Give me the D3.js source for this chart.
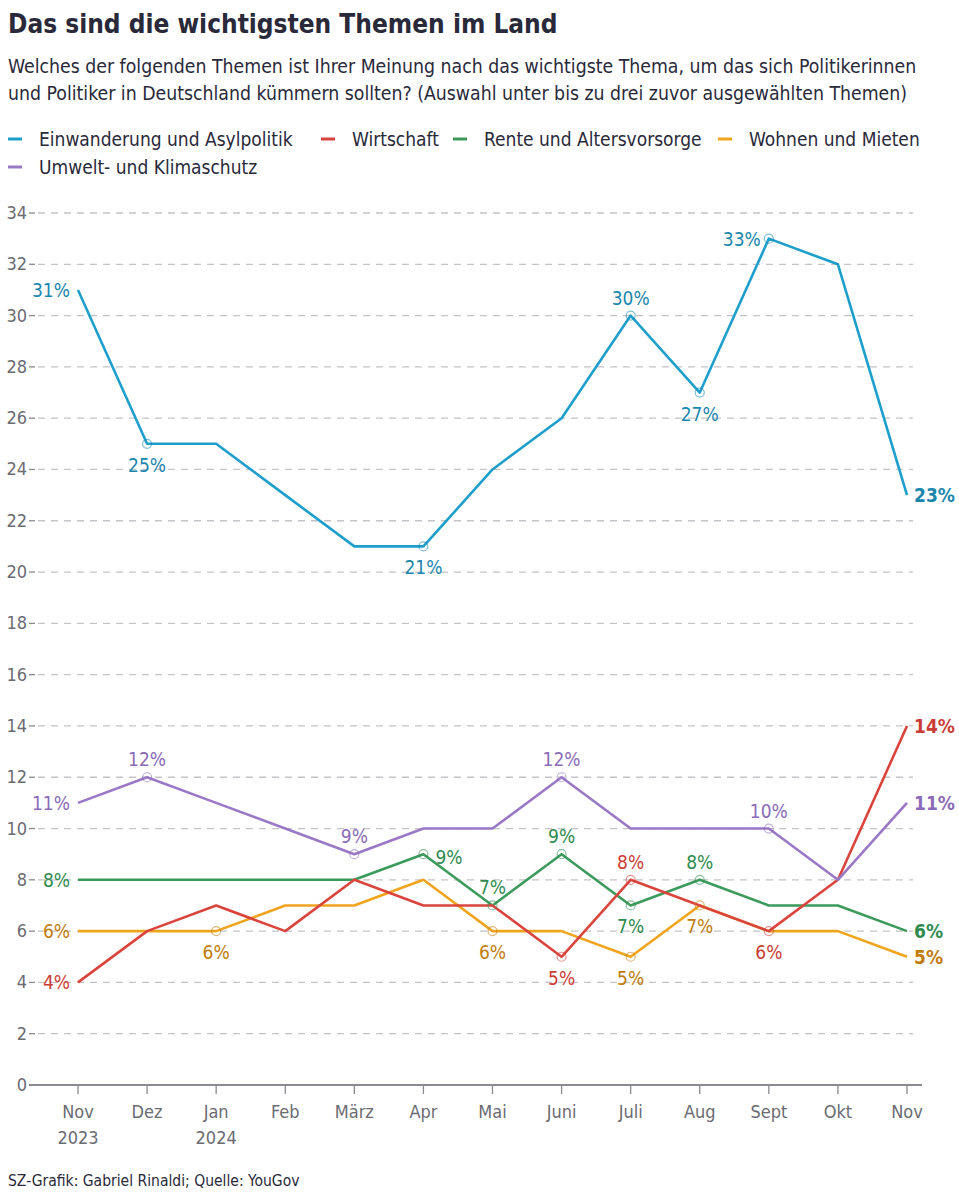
<!DOCTYPE html>
<html><head><meta charset="utf-8">
<script src="https://cdn.jsdelivr.net/npm/d3@7"></script>
<style>
body{margin:0;background:#fff;}
svg text{font-family:"Liberation Sans Narrow","DejaVu Sans Condensed","Roboto",sans-serif;}
</style></head><body>
<svg id="c" width="959" height="1200"></svg>
<script>
const months = ["Nov","Dez","Jan","Feb","März","Apr","Mai","Juni","Juli","Aug","Sept","Okt","Nov "];
const years = ["2023","","2024","","","","","","","","","",""];
const yTicks = [0,2,4,6,8,10,12,14,16,18,20,22,24,26,28,30,32,34];
const seriesNames = ["Einwanderung und Asylpolitik","Wirtschaft","Rente und Altersvorsorge","Wohnen und Mieten","Umwelt- und Klimaschutz"];
const einwanderung = [31,25,25,23,21,21,24,26,30,27,33,32,23];
const wirtschaft   = [4,6,7,6,8,7,7,5,8,7,6,8,14];
const rente        = [8,8,8,8,8,9,7,9,7,8,7,7,6];
const wohnen       = [6,6,6,7,7,8,6,6,5,7,6,6,5];
const umwelt       = [11,12,11,10,9,10,10,12,10,10,10,8,11];
// labelled points: [index, position]
const labEinw = [[0,"l"],[1,"b"],[5,"b"],[8,"t"],[9,"b"],[10,"l"],[12,"r"]];
const labWirt = [[0,"l"],[7,"b"],[8,"t"],[10,"b"],[12,"r"]];
const labRente= [[0,"l"],[5,"r"],[6,"t"],[7,"t"],[8,"b"],[9,"t"],[12,"r"]];
const labWohn = [[0,"l"],[2,"b"],[6,"b"],[8,"b"],[9,"b"],[12,"r"]];
const labUmw  = [[0,"l"],[1,"t"],[4,"t"],[7,"t"],[10,"t"],[12,"r"]];

const lineColors = ["#1e9fcb","#d9453d","#3c9a5c","#f0a41e","#9a78c6"];
const textColors = ["#1a86ad","#c93d36","#2f8a4f","#c07c0c","#8b6bb7"];
const data = [einwanderung,wirtschaft,rente,wohnen,umwelt];
const labs = [labEinw,labWirt,labRente,labWohn,labUmw];

const svg = d3.select("#c");
const x = d3.scalePoint().domain(months).range([78,907]);
const y = d3.scaleLinear().domain([0,34]).range([1085,213]);

// title
svg.append("text").attr("x",8).attr("y",33).attr("font-size",26).attr("font-weight","bold")
  .attr("fill","#29293a").text("Das sind die wichtigsten Themen im Land");
svg.append("text").attr("x",8).attr("y",73).attr("font-size",19.3).attr("fill","#29293a")
  .text("Welches der folgenden Themen ist Ihrer Meinung nach das wichtigste Thema, um das sich Politikerinnen");
svg.append("text").attr("x",8).attr("y",100).attr("font-size",19.3).attr("fill","#29293a")
  .text("und Politiker in Deutschland kümmern sollten? (Auswahl unter bis zu drei zuvor ausgewählten Themen)");

// legend
const legPos = [[8,146],[321,146],[453,146],[718,146],[8,174]];
seriesNames.forEach((n,i)=>{
  const g = svg.append("g").attr("transform",`translate(${legPos[i][0]},${legPos[i][1]})`);
  g.append("line").attr("x1",0).attr("x2",14).attr("y1",-7).attr("y2",-7).attr("stroke",lineColors[i]).attr("stroke-width",3);
  g.append("text").attr("x",31).attr("y",0).attr("font-size",19).attr("fill","#29293a").text(n);
});

// grid
const grid = svg.append("g");
yTicks.forEach(t=>{
  if(t>0) grid.append("line").attr("x1",38).attr("x2",913).attr("y1",y(t)).attr("y2",y(t))
    .attr("stroke","#c4c4c8").attr("stroke-width",1.3).attr("stroke-dasharray","7,6");
  grid.append("line").attr("x1",29).attr("x2",35).attr("y1",y(t)).attr("y2",y(t)).attr("stroke","#8a8a90").attr("stroke-width",1.3);
  grid.append("text").attr("x",27).attr("y",y(t)+6).attr("text-anchor","end").attr("font-size",18).attr("fill","#6b6b72").text(t);
});
// x axis
const xa = svg.append("g").attr("transform","translate(0,1085)");
xa.append("line").attr("x1",29).attr("x2",922).attr("y1",0).attr("y2",0).attr("stroke","#8a8a90").attr("stroke-width",2);
months.forEach((m,i)=>{
  xa.append("line").attr("x1",x(m)).attr("x2",x(m)).attr("y1",0).attr("y2",9).attr("stroke","#8a8a90").attr("stroke-width",1.3);
  xa.append("text").attr("x",x(m)).attr("y",33).attr("text-anchor","middle").attr("font-size",18).attr("fill","#6b6b72").text(m.trim());
  if(years[i]) xa.append("text").attr("x",x(m)).attr("y",59).attr("text-anchor","middle").attr("font-size",18).attr("fill","#6b6b72").text(years[i]);
});

// lines
const line = d3.line().x((d,i)=>x(months[i])).y(d=>y(d));
const order = [3,2,1,4,0];
order.forEach(si=>{
  svg.append("path").datum(data[si]).attr("d",line).attr("fill","none").attr("stroke",lineColors[si]).attr("stroke-width",2.6).attr("stroke-linejoin","round");
});
// circles and labels
order.forEach(si=>{
  labs[si].forEach(([i,pos])=>{
    const cx = x(months[i]), cy = y(data[si][i]);
    const last = i===data[si].length-1;
    if(i>0 && !last){
      svg.append("circle").attr("cx",cx).attr("cy",cy).attr("r",4.5).attr("fill","none").attr("stroke",textColors[si]).attr("stroke-opacity",0.55).attr("stroke-width",1.2);
    }
    let tx=cx, ty=cy, anchor="middle";
    if(pos==="l"){tx=cx-8;ty=cy+7;anchor="end";}
    if(pos==="r"){tx=cx+7;ty=cy+7;anchor="start";}
    if(pos==="t"){ty=cy-11;}
    if(pos==="b"){ty=cy+28;}
    if(si===2 && i===5){tx=cx+12;ty=cy+10;}
    svg.append("text").attr("x",tx).attr("y",ty).attr("text-anchor",anchor).attr("font-size",19)
      .attr("font-weight",last?"bold":"normal").attr("fill",textColors[si]).text(data[si][i]+"%");
  });
});

svg.append("text").attr("x",8).attr("y",1186).attr("font-size",15.5).attr("fill","#29293a").text("SZ-Grafik: Gabriel Rinaldi; Quelle: YouGov");
</script></body></html>
